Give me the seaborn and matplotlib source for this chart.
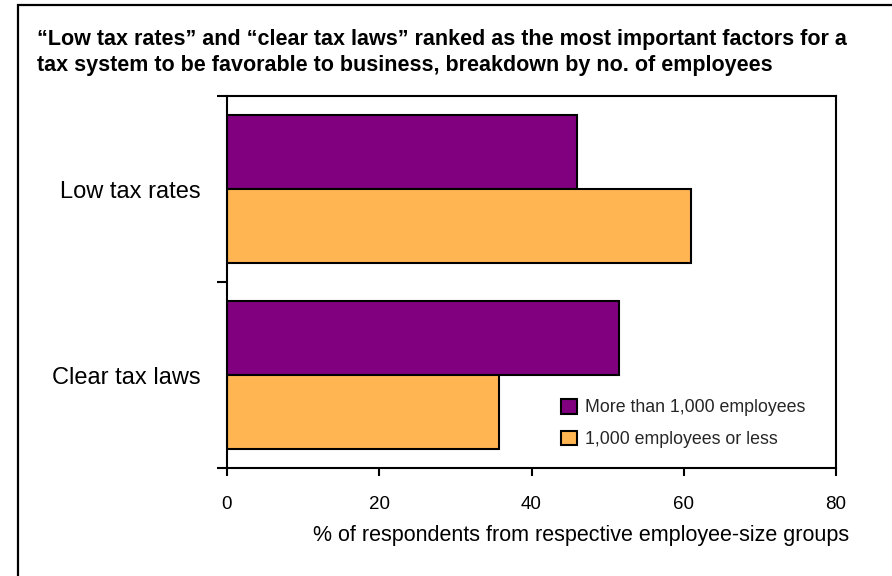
import matplotlib
matplotlib.use("Agg")
import matplotlib.pyplot as plt
from matplotlib.patches import Patch, Rectangle
import seaborn as sns
import pandas as pd

# Survey values (% of respondents per employee-size group)
factors = ["Low tax rates", "Clear tax laws"]
groups = ["More than 1,000 employees", "1,000 employees or less"]
large_firms = [46, 51.5]
small_firms = [61, 35.7]
x_ticks = [0, 20, 40, 60, 80]
colors = ["#800080", "#FFB652"]

title_lines = [
    "\u201cLow tax rates\u201d and \u201cclear tax laws\u201d ranked as the most important factors for a",
    "tax system to be favorable to business, breakdown by no. of employees",
]
x_label = "% of respondents from respective employee-size groups"

df = pd.DataFrame({
    "factor": factors * 2,
    "group": [groups[0]] * len(factors) + [groups[1]] * len(factors),
    "pct": large_firms + small_firms,
})

sns.set_theme(style="white")
plt.rcParams["font.family"] = ["Liberation Sans", "DejaVu Sans"]

W, H = 892, 576
fig = plt.figure(figsize=(W / 100, H / 100), dpi=100)
ax = fig.add_axes([227 / W, 1 - 468 / H, (836 - 227) / W, (468 - 96) / H])

sns.barplot(
    data=df, y="factor", x="pct", hue="group",
    order=factors, hue_order=groups, palette=colors,
    orient="h", width=0.8, saturation=1,
    edgecolor="black", linewidth=1.5, ax=ax, legend=False,
)

ax.set_xlim(0, 80)
ax.set_xticks(x_ticks, labels=[str(t) for t in x_ticks])
ax.set_ylim(1.5, -0.5)
ax.set_yticks([-0.5, 0.5, 1.5], labels=["", "", ""])
ax.set_yticks([0, 1], labels=factors, minor=True)
ax.set_ylabel("")

ax.tick_params(axis="x", bottom=True, length=6, width=1.5, color="black",
               direction="out", pad=14, labelsize=13.5, labelcolor="black")
ax.tick_params(axis="y", which="major", left=True, length=7, width=1.5,
               color="black", direction="out")
ax.tick_params(axis="y", which="minor", left=True, length=0, pad=19,
               labelsize=17, labelcolor="black")

for sp in ax.spines.values():
    sp.set_visible(True)
    sp.set_color("black")
    sp.set_linewidth(1.5)

ax.set_xlabel(x_label, fontsize=15.5, color="black")
ax.xaxis.set_label_coords(0.582, -0.152)

handles = [Patch(facecolor=c, edgecolor="black", linewidth=1.5) for c in colors]
ax.legend(handles, groups, loc="upper left", bbox_to_anchor=(0.549, 0.186),
          frameon=False, fontsize=12.8, handlelength=0.9, handleheight=0.9,
          handletextpad=0.45, labelspacing=0.8, borderpad=0, borderaxespad=0)

# Title block
fig.text(37 / W, 1 - 45 / H, title_lines[0], fontsize=15.5, fontweight="bold",
         va="baseline", ha="left", color="black")
fig.text(37 / W, 1 - 71 / H, title_lines[1], fontsize=15.5, fontweight="bold",
         va="baseline", ha="left", color="black")

# Outer frame around the chart area
fig.add_artist(Rectangle((18 / W, -0.2), 1.2, 1.2 - 5 / H, transform=fig.transFigure,
                         fill=False, edgecolor="black", linewidth=1.6))

fig.savefig("out.png", dpi=100)
